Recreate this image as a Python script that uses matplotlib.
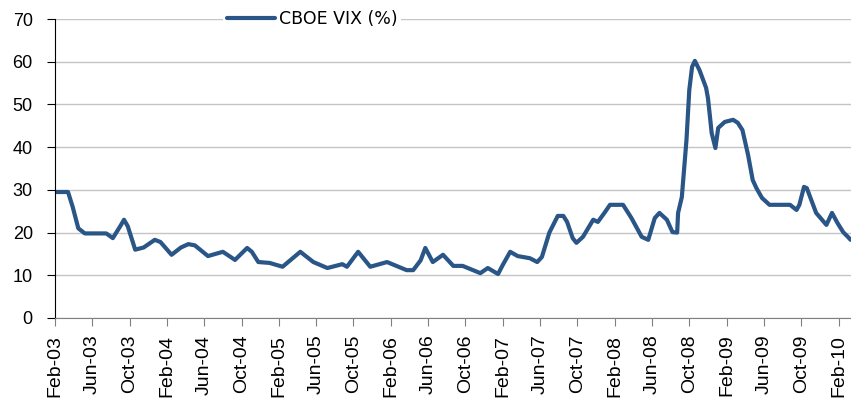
import matplotlib.pyplot as plt

# months since Feb-2003, VIX level (%)
months = [0, 1.4, 1.9, 2.5, 3.2, 5.5, 6.2, 7.0, 7.4, 7.8, 8.6, 9.5, 10.7,
          11.3, 12.5, 13.5, 14.3, 15.0, 16.4, 18.0, 19.3, 20.6, 21.1, 21.8,
          23.0, 24.4, 26.3, 27.7, 29.2, 30.8, 31.3, 32.5, 33.8, 35.6, 37.7,
          38.4, 39.2, 39.7, 40.5, 41.6, 42.7, 43.7, 45.6, 46.4, 47.5, 48.0,
          48.8, 49.6, 50.9, 51.7, 52.2, 53.0, 53.9, 54.5, 54.9, 55.5, 55.9,
          56.6, 57.7, 58.2, 58.9, 59.5, 60.9, 61.8, 62.9, 63.6, 64.3, 64.8,
          65.6, 66.2, 66.7, 66.8, 67.2, 67.7, 68.0, 68.3, 68.6, 69.1, 69.8,
          70.0, 70.2, 70.4, 70.8, 71.1, 71.8, 72.7, 73.2, 73.7, 74.3, 74.8,
          75.2, 75.8, 76.6, 78.8, 79.5, 79.8, 80.3, 80.6, 81.6, 82.7, 83.3,
          83.9, 84.5, 85.0, 85.3]
vix = [29.5, 29.5, 26.0, 21.0, 19.8, 19.8, 18.7, 21.5, 23.0, 21.5, 16.0,
       16.5, 18.3, 17.8, 14.8, 16.5, 17.3, 17.0, 14.5, 15.5, 13.6, 16.4,
       15.5, 13.1, 12.9, 12.0, 15.5, 13.1, 11.7, 12.6, 12.0, 15.5, 12.0,
       13.1, 11.2, 11.2, 13.5, 16.4, 13.1, 14.8, 12.2, 12.2, 10.5, 11.7,
       10.3, 12.4, 15.5, 14.5, 14.0, 13.1, 14.3, 20.0, 23.9, 23.9, 22.5,
       18.7, 17.6, 19.0, 23.0, 22.5, 24.6, 26.5, 26.5, 23.4, 19.0, 18.3,
       23.4, 24.6, 23.0, 20.1, 20.0, 24.6, 28.3, 41.7, 53.4, 58.8, 60.2,
       58.0, 53.9, 51.5, 47.5, 43.3, 39.8, 44.5, 45.9, 46.4, 45.7, 44.0,
       38.2, 32.3, 30.4, 28.1, 26.5, 26.5, 25.3, 26.5, 30.7, 30.4, 24.6,
       21.8, 24.6, 22.2, 20.1, 19.0, 18.3]

tick_labels = ["Feb-03", "Jun-03", "Oct-03", "Feb-04", "Jun-04", "Oct-04",
               "Feb-05", "Jun-05", "Oct-05", "Feb-06", "Jun-06", "Oct-06",
               "Feb-07", "Jun-07", "Oct-07", "Feb-08", "Jun-08", "Oct-08",
               "Feb-09", "Jun-09", "Oct-09", "Feb-10"]


def main():
    plt.rcParams['font.family'] = ['Liberation Sans', 'DejaVu Sans']
    fig = plt.figure(figsize=(8.51, 4.09), dpi=100)
    ax = fig.add_axes([0.0646, 0.2225, 0.935, 0.731])

    line, = ax.plot(months, vix, color="#2a5587", lw=3,
                    solid_joinstyle="round", solid_capstyle="round",
                    label="CBOE VIX (%)")

    ax.set_xlim(0, 85.3)
    ax.set_ylim(0, 70)
    ax.set_yticks(range(0, 71, 10))
    ax.set_xticks(range(0, 85, 4))
    ax.set_xticklabels(tick_labels, rotation=90, fontsize=14)
    ax.tick_params(axis="y", labelsize=13, length=6, color="black",
                   pad=10)
    ax.tick_params(axis="x", length=6, color="#808080", pad=6)
    ax.yaxis.grid(True, color="#c4c4c4", lw=1)
    ax.set_axisbelow(True)
    for s in ("top", "right"):
        ax.spines[s].set_visible(False)
    ax.spines["left"].set_color("black")
    ax.spines["bottom"].set_color("#808080")

    leg = fig.legend(handles=[line], loc="center",
                     bbox_to_anchor=(312 / 851, 1 - 19 / 409),
                     frameon=True, fancybox=False, handlelength=2.8,
                     handletextpad=0.2, borderpad=0.2,
                     prop={"family": "DejaVu Sans", "size": 12.5})
    leg.get_frame().set_edgecolor("none")
    leg.get_frame().set_facecolor("white")
    leg.get_frame().set_alpha(1)

    fig.savefig("out.png", dpi=100)


if __name__ == "__main__":
    main()
